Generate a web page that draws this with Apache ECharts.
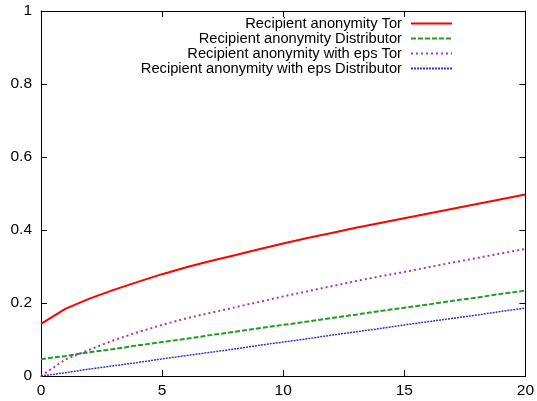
<!DOCTYPE html>
<html lang="en">

<head>
    <meta charset="UTF-8">
    <title>Recipient anonymity</title>
    <script src="https://cdn.jsdelivr.net/npm/echarts@6/dist/echarts.min.js"></script>
    <style>
        html, body { margin: 0; padding: 0; background: #fff; }
    </style>
</head>

<body>
    <div id="chart" style="width: 537px; height: 401px;"></div>

    <script>
        // x = 0..20
        var xs = [0, 1, 2, 3, 4, 5, 6, 7, 8, 9, 10, 11, 12, 13, 14, 15, 16, 17, 18, 19, 20];
        var torValues = [0.143, 0.184, 0.212, 0.236, 0.258, 0.279, 0.298, 0.315, 0.331, 0.347, 0.363,
            0.378, 0.392, 0.406, 0.419, 0.432, 0.445, 0.458, 0.471, 0.484, 0.497];
        var distValues = [0.046, 0.055, 0.065, 0.074, 0.084, 0.093, 0.102, 0.112, 0.121, 0.131, 0.140,
            0.149, 0.159, 0.168, 0.178, 0.187, 0.196, 0.206, 0.215, 0.225, 0.234];
        var epsTorValues = [0.0, 0.045, 0.072, 0.098, 0.120, 0.140, 0.158, 0.173, 0.188, 0.203, 0.218,
            0.232, 0.246, 0.260, 0.273, 0.285, 0.298, 0.311, 0.323, 0.336, 0.348];
        var epsDistValues = [0.0, 0.009, 0.019, 0.028, 0.037, 0.047, 0.056, 0.065, 0.074, 0.084, 0.093,
            0.102, 0.112, 0.121, 0.130, 0.140, 0.149, 0.158, 0.167, 0.177, 0.186];
        var seriesNames = [
            'Recipient anonymity Tor',
            'Recipient anonymity Distributor',
            'Recipient anonymity with eps Tor',
            'Recipient anonymity with eps Distributor'
        ];

        function pairs(vals) {
            var out = [];
            for (var i = 0; i < xs.length; i++) {
                out.push([xs[i], vals[i]]);
            }
            return out;
        }

        var font = 'Liberation Sans, Arial, Helvetica, sans-serif';

        var axisCommon = {
            axisLine: { show: true, onZero: false, lineStyle: { color: '#000', width: 1 } },
            axisTick: { show: true, inside: true, length: 6, lineStyle: { color: '#000' } },
            splitLine: { show: false }
        };

        var chart = echarts.init(document.getElementById('chart'));
        var option = {
            animation: false,
            backgroundColor: '#fff',
            grid: { left: 41, right: 9, top: 11, bottom: 25 },
            legend: {
                orient: 'vertical',
                right: 84,
                top: 16,
                padding: 0,
                align: 'right',
                itemWidth: 41,
                itemHeight: 10,
                itemGap: 0,
                data: seriesNames,
                itemStyle: { opacity: 0 },
                textStyle: {
                    fontFamily: font,
                    fontSize: 14.7,
                    lineHeight: 14.7,
                    color: '#000',
                    padding: [0, 4, 0, 0]
                }
            },
            xAxis: [
                Object.assign({
                    type: 'value', position: 'bottom', min: 0, max: 20, interval: 5,
                    axisLabel: { color: '#000', fontFamily: font, fontSize: 15.5, margin: 7 }
                }, axisCommon),
                Object.assign({
                    type: 'value', position: 'top', min: 0, max: 20, interval: 5,
                    axisLabel: { show: false }
                }, axisCommon)
            ],
            yAxis: [
                Object.assign({
                    type: 'value', position: 'left', min: 0, max: 1, interval: 0.2,
                    axisLabel: { color: '#000', fontFamily: font, fontSize: 15.5, margin: 9 }
                }, axisCommon),
                Object.assign({
                    type: 'value', position: 'right', min: 0, max: 1, interval: 0.2,
                    axisLabel: { show: false }
                }, axisCommon)
            ],
            series: [
                {
                    name: seriesNames[0], type: 'line', symbol: 'none',
                    data: pairs(torValues),
                    itemStyle: { color: '#ff0000' },
                    lineStyle: { color: '#ff0000', width: 2, type: 'solid' }
                },
                {
                    name: seriesNames[1], type: 'line', symbol: 'none',
                    data: pairs(distValues),
                    itemStyle: { color: '#1ea01e' },
                    lineStyle: { color: '#1ea01e', width: 2, type: [5, 2] }
                },
                {
                    name: seriesNames[2], type: 'line', symbol: 'none',
                    data: pairs(epsTorValues),
                    itemStyle: { color: '#b030c0' },
                    lineStyle: { color: '#b030c0', width: 2, type: [2, 3] }
                },
                {
                    name: seriesNames[3], type: 'line', symbol: 'none',
                    data: pairs(epsDistValues),
                    itemStyle: { color: '#3535c0' },
                    lineStyle: { color: '#3535c0', width: 1.5, type: [2, 1] }
                }
            ]
        };

        option && chart.setOption(option);
    </script>

</body>

</html>
